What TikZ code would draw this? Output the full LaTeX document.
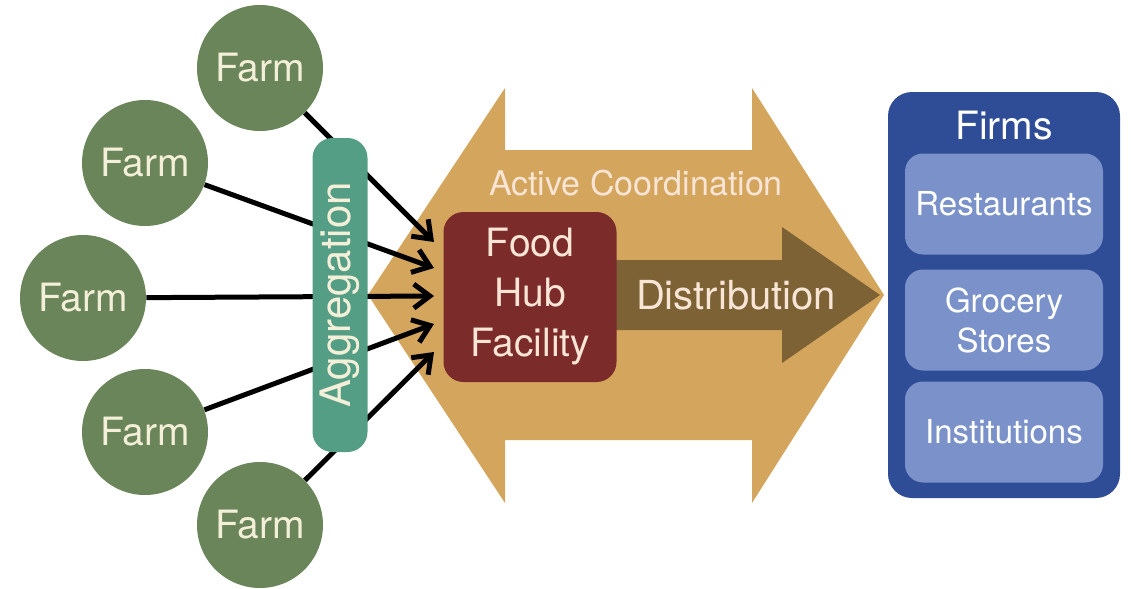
\documentclass[tikz,border=0pt]{standalone}
\usepackage{fontspec}
\setmainfont{TeX Gyre Heros}
\usetikzlibrary{arrows.meta}

\definecolor{farmgreen}{HTML}{6A8559}
\definecolor{farmtext}{HTML}{F4EFD8}
\definecolor{aggteal}{HTML}{559E86}
\definecolor{coordtan}{HTML}{D4A55C}
\definecolor{hubred}{HTML}{7A2B2A}
\definecolor{hubtext}{HTML}{F8E5D5}
\definecolor{distbrown}{HTML}{7D6236}
\definecolor{firmblue}{HTML}{2F4D96}
\definecolor{firmlight}{HTML}{7A92C9}

\begin{document}
\begin{tikzpicture}[x = 0.5pt, y = -0.5pt,
  farm/.style = {circle, fill = farmgreen, minimum size = 63pt, inner sep = 0,
    text = farmtext, font = \fontsize{19.5}{23}\selectfont},
  feed/.style = {line width = 2.5pt, -{Straight Barb[length = 8pt, width = 12pt]}},
  firm/.style = {rounded corners = 9pt, fill = firmlight, minimum width = 99pt,
    minimum height = 50.5pt, text = white, align = center,
    font = \fontsize{16.5}{20}\selectfont}]
  \useasboundingbox (0, 0) rectangle (1131, 589);

  % active coordination: big double arrow
  \fill[coordtan] (368, 295) -- (505, 88) -- (505, 150) -- (752, 150)
  -- (752, 88) -- (884, 295) -- (752, 503) -- (752, 440) -- (505, 440)
  -- (505, 503) -- cycle;
  \node[text = hubtext, font = \fontsize{17}{20}\selectfont] (coord) at
  (636, 183) {Active Coordination};

  % distribution arrow
  \fill[distbrown] (610, 260) -- (782, 260) -- (782, 227) -- (880, 295)
  -- (782, 363) -- (782, 330) -- (610, 330) -- cycle;
  \node[text = hubtext, font = \fontsize{20}{24}\selectfont] (dist) at
  (736, 295) {Distribution};

  \node[rounded corners = 10pt, fill = hubred, minimum width = 86.5pt,
  minimum height = 85pt, align = center, text = hubtext,
  font = \fontsize{19.5}{25}\selectfont] (hub) at (530, 297)
  {Food\\Hub\\Facility};

  % farms
  \node[farm] (f1) at (260, 68) {Farm};
  \node[farm] (f2) at (145, 163) {Farm};
  \node[farm] (f3) at (83, 298) {Farm};
  \node[farm] (f4) at (145, 432) {Farm};
  \node[farm] (f5) at (260, 525) {Farm};

  \coordinate (in1) at (434, 242);
  \coordinate (in2) at (434, 268);
  \coordinate (in3) at (434, 296);
  \coordinate (in4) at (434, 324);
  \coordinate (in5) at (434, 352);
  \foreach \i in {1, ..., 5}
    \draw[feed] (f\i) -- (in\i);

  \node[rotate = 90, rounded corners = 10pt, fill = aggteal,
  minimum width = 157pt, minimum height = 27.5pt, text = farmtext,
  font = \fontsize{21}{24}\selectfont] (agg) at (340, 295) {Aggregation};

  % firms
  \node[rounded corners = 12pt, fill = firmblue, minimum width = 116pt,
  minimum height = 203pt] (firms) at (1004, 295) {};
  \node[text = white, font = \fontsize{19.5}{23}\selectfont] (firmlabel) at
  (1004, 126) {Firms};
  \node[firm] (rest) at (1004, 204) {Restaurants};
  \node[firm] (groc) at (1004, 320) {Grocery\\Stores};
  \node[firm] (inst) at (1004, 432) {Institutions};
\end{tikzpicture}
\end{document}
